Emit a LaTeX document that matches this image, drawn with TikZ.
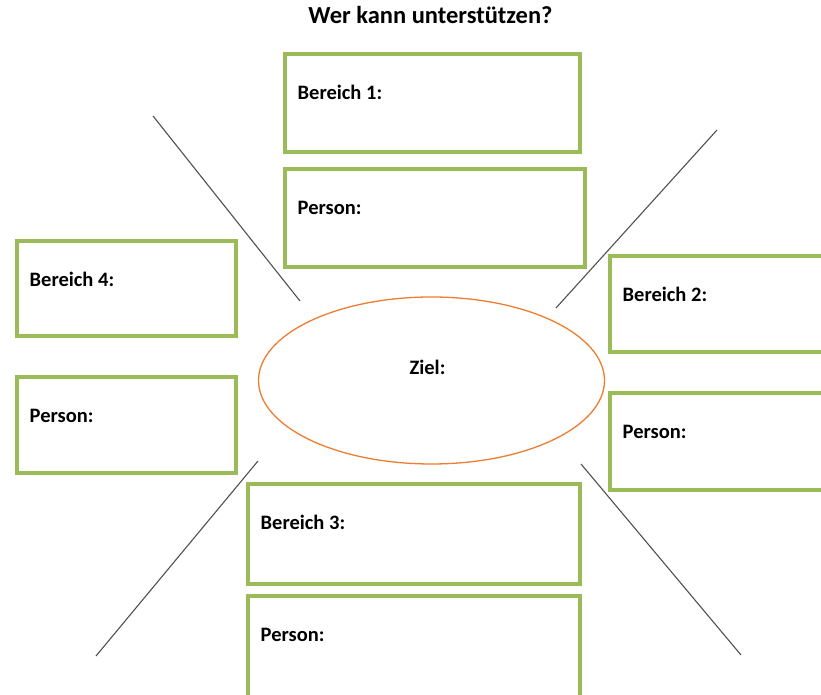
\documentclass[tikz,border=0pt]{standalone}
\usepackage{fontspec}
\setmainfont{Carlito}
\definecolor{boxgreen}{RGB}{155,187,89}
\definecolor{goalorange}{RGB}{237,125,49}
\definecolor{spoke}{RGB}{80,80,80}
\tikzset{
  field/.style={shape=rectangle,draw=boxgreen,line width=4pt,inner sep=0pt},
  fieldtext/.style={anchor=base west,inner sep=0pt,font=\fontsize{20.5}{24}\selectfont\bfseries},
  goal/.style={shape=ellipse,draw=goalorange,line width=1.3pt,minimum width=346pt,minimum height=167pt,inner sep=0pt},
  spokeline/.style={draw=spoke,line width=1.1pt}
}
\usetikzlibrary{shapes.geometric}
\begin{document}
\begin{tikzpicture}[x=1pt,y=1pt]
            \useasboundingbox (0,0) rectangle (821,695);

            \node[anchor=base,inner sep=0pt,font=\fontsize{24.5}{29}\selectfont\bfseries] (title) at (430.5,671) {Wer kann unterstützen?};

            \node[field,minimum width=295pt,minimum height=98pt] (B1) at (432.5,592) {};
            \node[field,minimum width=300pt,minimum height=98pt] (P1) at (435,477) {};
            \node[field,minimum width=219pt,minimum height=95pt] (B4) at (126.5,406.5) {};
            \node[field,minimum width=219pt,minimum height=96pt] (P4) at (126.5,270) {};
            \node[field,minimum width=230pt,minimum height=96pt] (B2) at (725,391) {};
            \node[field,minimum width=230pt,minimum height=97pt] (P2) at (725,253.5) {};
            \node[field,minimum width=332pt,minimum height=100pt] (B3) at (414,161) {};
            \node[field,minimum width=332pt,minimum height=114pt] (P3) at (414,42) {};

            \node[fieldtext] (B1t) at ([shift={(14.5,-48)}]B1.north west) {Bereich 1:};
            \node[fieldtext] (P1t) at ([shift={(14.5,-48)}]P1.north west) {Person:};
            \node[fieldtext] (B4t) at ([shift={(14.5,-48)}]B4.north west) {Bereich 4:};
            \node[fieldtext] (P4t) at ([shift={(14.5,-48)}]P4.north west) {Person:};
            \node[fieldtext] (B2t) at ([shift={(14.5,-48)}]B2.north west) {Bereich 2:};
            \node[fieldtext] (P2t) at ([shift={(14.5,-48)}]P2.north west) {Person:};
            \node[fieldtext] (B3t) at ([shift={(14.5,-48)}]B3.north west) {Bereich 3:};
            \node[fieldtext] (P3t) at ([shift={(14.5,-48)}]P3.north west) {Person:};

            \node[goal] (Z) at (431.5,314.5) {};
            \node[fieldtext,anchor=base] (Zt) at ([shift={(-4,5.5)}]Z.center) {Ziel:};

            \coordinate (NWa) at (153,579);
            \coordinate (NWb) at (300,394);
            \coordinate (NEa) at (717,565);
            \coordinate (NEb) at (556,387);
            \coordinate (SWa) at (258,234);
            \coordinate (SWb) at (96,39);
            \coordinate (SEa) at (581,231);
            \coordinate (SEb) at (741,40);

            \path[spokeline] (NWa) -- (NWb);
            \path[spokeline] (NEa) -- (NEb);
            \path[spokeline] (SWa) -- (SWb);
            \path[spokeline] (SEa) -- (SEb);

        \end{tikzpicture}
\end{document}
